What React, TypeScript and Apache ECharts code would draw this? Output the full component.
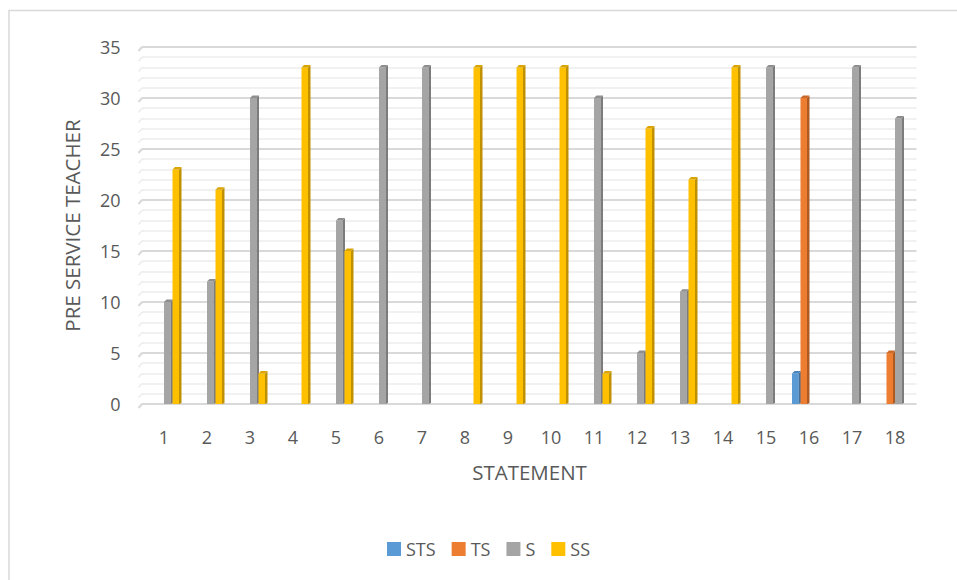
import React, { useEffect, useRef } from "react";
import * as echarts from "echarts";

const categories = ["1","2","3","4","5","6","7","8","9","10","11","12","13","14","15","16","17","18"];
const seriesNames = ["STS", "TS", "S", "SS"];
const stsValues = [0,0,0,0,0,0,0,0,0,0,0,0,0,0,0,3,0,0];
const tsValues  = [0,0,0,0,0,0,0,0,0,0,0,0,0,0,0,30,0,5];
const sValues   = [10,12,30,0,18,33,33,0,0,0,30,5,11,0,33,0,33,28];
const ssValues  = [23,21,3,33,15,0,0,33,33,33,3,27,22,33,0,0,0,0];
const yTicks = { min: 0, max: 35, interval: 5 };

const frontColors = ["#5B9BD5", "#ED7D31", "#A5A5A5", "#FFC000"];
const sideColors = ["#41719C", "#AE5A21", "#7C7C7C", "#BF9000"];
const topColors = ["#4A85BB", "#C9692A", "#8E8E8E", "#D9A400"];

export default function App() {
  const ref = useRef<HTMLDivElement>(null);
  useEffect(() => {
    if (!ref.current) return;
    const chart = echarts.init(ref.current, null, { renderer: "svg" });
    const allValues = [stsValues, tsValues, sValues, ssValues];
    const pitch = 8.5;
    const frontW = 6.5;
    const depth = 2.5;
    const series = allValues.map((vals, si) => ({
      name: seriesNames[si],
      type: "custom",
      itemStyle: { color: frontColors[si] },
      encode: { x: 0, y: 1 },
      data: vals.map((v, i) => [i, v]),
      renderItem: (params: any, api: any) => {
        const idx = api.value(0);
        const val = api.value(1);
        if (!val) return null;
        const top = api.coord([idx, val]);
        const base = api.coord([idx, 0]);
        const x0 = top[0] + (si - 2) * pitch;
        const t = top[1];
        const b = base[1];
        return {
          type: "group",
          children: [
            {
              type: "rect",
              shape: { x: x0, y: t, width: frontW, height: b - t },
              style: { fill: frontColors[si] },
            },
            {
              type: "polygon",
              shape: { points: [[x0 + frontW, t], [x0 + frontW + depth, t - depth], [x0 + frontW + depth, b - 1], [x0 + frontW, b]] },
              style: { fill: sideColors[si] },
            },
            {
              type: "polygon",
              shape: { points: [[x0, t], [x0 + depth, t - depth], [x0 + frontW + depth, t - depth], [x0 + frontW, t]] },
              style: { fill: topColors[si] },
            },
          ],
        };
      },
    }));
    const frame = {
      type: "rect",
      shape: { x: 9, y: 10.5, width: 1000, height: 700 },
      style: { fill: "none", stroke: "#d9d9d9", lineWidth: 1.5 },
      z: 0,
    };
    chart.setOption({
      animation: false,
      textStyle: { fontFamily: "Open Sans", color: "#595959" },
      graphic: [frame],
      grid: { left: 142.5, right: 40.5, top: 47, bottom: 176 },
      legend: {
        data: seriesNames,
        left: 382,
        top: 535,
        icon: "rect",
        itemWidth: 14,
        itemHeight: 14,
        itemGap: 16,
        textStyle: { fontSize: 18, color: "#595959", fontFamily: "Open Sans" },
      },
      xAxis: {
        type: "category",
        data: categories,
        axisLine: { show: false },
        axisTick: { show: false },
        axisLabel: { fontSize: 18, color: "#595959", margin: 24, fontFamily: "Open Sans" },
        name: "STATEMENT",
        nameLocation: "middle",
        nameGap: 57,
        nameTextStyle: { fontSize: 20.5, color: "#595959", fontFamily: "Open Sans" },
      },
      yAxis: {
        type: "value",
        min: yTicks.min,
        max: yTicks.max,
        interval: yTicks.interval,
        axisLine: { show: false },
        axisTick: { show: false },
        axisLabel: { fontSize: 18, color: "#595959", margin: 22, fontFamily: "Open Sans", padding: [4, 0, 0, 0] },
        splitLine: { show: true, lineStyle: { color: "#d9d9d9", width: 2 } },
        minorTick: { show: false, splitNumber: 5 },
        minorSplitLine: { show: true, lineStyle: { color: "#ededed", width: 1.5 } },
        name: "PRE SERVICE TEACHER",
        nameLocation: "middle",
        nameGap: 60,
        nameTextStyle: { fontSize: 20.5, color: "#595959", fontFamily: "Open Sans" },
      },
      series,
    });
    // small 3D side-wall hooks at the left end of each gridline
    const hooks: any[] = [];
    for (let v = yTicks.min; v <= yTicks.max; v += 1) {
      const p = chart.convertToPixel({ gridIndex: 0 }, [0, v]) as number[];
      const xl = 142.5;
      const major = v % yTicks.interval === 0;
      hooks.push({
        type: "polyline",
        shape: { points: [[xl - 4, p[1] + 4], [xl - 1, p[1] + 0.5], [xl + 1, p[1]]] },
        style: { fill: "none", stroke: major ? "#d9d9d9" : "#ededed", lineWidth: major ? 2 : 1.5 },
        z: 1,
      });
    }
    chart.setOption({ graphic: [frame, ...hooks] });
    return () => chart.dispose();
  }, []);
  return (
    <div
      ref={ref}
      style={{ position: "absolute", left: 0, top: 0, width: 957, height: 580, background: "#fff" }}
    />
  );
}
